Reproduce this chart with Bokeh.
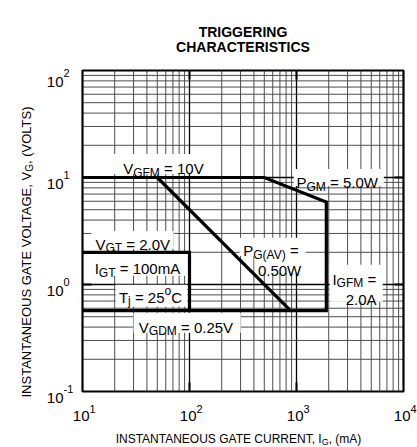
import math
from bokeh.plotting import figure
from bokeh.models import Label
from bokeh.embed import file_html
from bokeh.resources import INLINE

# ---------------- data ----------------
decades_i = [10, 100, 1000, 10000]          # gate current, mA
exp_i = ["1", "2", "3", "4"]
decades_v = [0.1, 1, 10, 100]               # gate voltage, V
exp_v = ["-1", "0", "1", "2"]

# outer limit: V_GFM -> P_GM -> I_GFM -> V_GDM
limit_i = [10, 500, 1900, 1900, 10]
limit_v = [10.0, 10.0, 5.9, 0.57, 0.57]
# average gate power P_G(AV) = 0.50 W
pav_i = [50, 880]
pav_v = [10.0, 0.57]
# trigger box V_GT = 2.0 V, I_GT = 100 mA
trig_i = [10, 100, 100]
trig_v = [2.0, 2.0, 0.57]

FONT = "Liberation Sans"

# Arial / Liberation Sans advance widths (per 1000 em) and main kerning pairs
W = {' ': 278, '(': 333, ')': 333, ',': 278, '-': 333, '.': 278, '=': 584,
     'A': 667, 'B': 667, 'C': 722, 'D': 722, 'E': 667, 'F': 611, 'G': 778,
     'H': 722, 'I': 278, 'J': 500, 'K': 667, 'L': 556, 'M': 833, 'N': 722,
     'O': 778, 'P': 667, 'Q': 778, 'R': 722, 'S': 667, 'T': 611, 'U': 722,
     'V': 667, 'W': 944, 'X': 667, 'Y': 667, 'Z': 611, 'a': 556, 'j': 222,
     'm': 833, 'o': 556}
for d in "0123456789":
    W[d] = 556
KERN = {"AT": -74, "TA": -74, "AV": -74, "VA": -74, "LT": -74, "LV": -74,
        "AY": -74, "YA": -74, "PA": -74, "11": -74, "T,": -111, "T.": -111,
        "V,": -111, "V.": -111, "P,": -129, "P.": -129}


def tw(s, size):
    w = sum(W.get(c, 600) for c in s)
    w += sum(KERN.get(s[i:i + 2], 0) for i in range(len(s) - 1))
    return w * size / 1000.0


# ---------------- layout (canvas = whole page, chart box drawn inside) ----------------
CW, CH = 417, 447
FL, FR, FT, FB = 82, 403, 70, 391           # chart box edges in canvas pixels
dec_x = (FR - FL) / 3.0
dec_y = (FB - FT) / 3.0
lx0, lx1 = math.log10(decades_i[0]), math.log10(decades_i[-1])
ly0, ly1 = math.log10(decades_v[0]), math.log10(decades_v[-1])
x_range = (10 ** (lx0 - FL / dec_x), 10 ** (lx1 + (CW - FR) / dec_x))
y_range = (10 ** (ly0 - (CH - FB) / dec_y), 10 ** (ly1 + FT / dec_y))

p = figure(width=CW, height=CH, x_axis_type="log", y_axis_type="log",
           x_range=x_range, y_range=y_range,
           x_axis_location=None, y_axis_location=None,
           output_backend="svg", toolbar_location=None, min_border=0)
p.grid.visible = False
p.outline_line_color = None
p.background_fill_color = "white"
p.border_fill_color = "white"

imin, imax = decades_i[0], decades_i[-1]
vmin, vmax = decades_v[0], decades_v[-1]

# grid
minor_i = [m * d for d in decades_i[:-1] for m in range(2, 10)]
minor_v = [m * d for d in decades_v[:-1] for m in range(2, 10)]
inner_i = decades_i[1:-1]
inner_v = decades_v[1:-1]
p.segment(x0=minor_i, x1=minor_i, y0=[vmin] * len(minor_i), y1=[vmax] * len(minor_i),
          line_color="#4d4d4d", line_width=1)
p.segment(x0=[imin] * len(minor_v), x1=[imax] * len(minor_v), y0=minor_v, y1=minor_v,
          line_color="#4d4d4d", line_width=1)
p.segment(x0=inner_i, x1=inner_i, y0=[vmin] * len(inner_i), y1=[vmax] * len(inner_i),
          line_color="black", line_width=1.3)
p.segment(x0=[imin] * len(inner_v), x1=[imax] * len(inner_v), y0=inner_v, y1=inner_v,
          line_color="black", line_width=1.3)

# inner major ticks (9 px long)
tk_x = 10 ** (9 / dec_x)
tk_y = 10 ** (9 / dec_y)
p.segment(x0=inner_i, x1=inner_i, y0=[vmin] * 2, y1=[vmin * tk_y] * 2, line_color="black", line_width=2)
p.segment(x0=inner_i, x1=inner_i, y0=[vmax] * 2, y1=[vmax / tk_y] * 2, line_color="black", line_width=2)
p.segment(x0=[imin] * 2, x1=[imin * tk_x] * 2, y0=inner_v, y1=inner_v, line_color="black", line_width=2)
p.segment(x0=[imax] * 2, x1=[imax / tk_x] * 2, y0=inner_v, y1=inner_v, line_color="black", line_width=2)

# ---------------- label backgrounds (white panels behind the annotations) ----------------
bg_left = [19.5, 942, 12.1, 10.3, 20.4, 294, 406, 2040, 30]
bg_right = [195, 6546, 71, 95, 95, 1219, 1219, 6400, 301]
bg_top = [16.6, 12.0, 3.17, 1.93, 0.994, 2.73, 1.85, 1.53, 0.544]
bg_bottom = [10.8, 8.35, 2.15, 1.21, 0.62, 1.85, 1.29, 0.69, 0.354]
p.quad(left=bg_left, right=bg_right, top=bg_top, bottom=bg_bottom,
       fill_color="white", line_color=None)

# chart box
p.quad(left=[imin], right=[imax], bottom=[vmin], top=[vmax],
       fill_color=None, line_color="black", line_width=2.2)

# ---------------- curves ----------------
p.line(limit_i, limit_v, line_color="black", line_width=3.2, line_join="miter")
p.line(pav_i, pav_v, line_color="black", line_width=3.2)
p.line(trig_i, trig_v, line_color="black", line_width=3.2, line_join="miter")


def rich(x, y, pieces, F, S, angle=0.0, x_off=0.0, y_off=0.0, sub=4.0, sup=6.0):
    adv = 0.0
    for text, kind in pieces:
        size = F if kind == "n" else S
        shift = {"n": 0.0, "s": -sub, "p": sup}[kind]
        stripped = text.lstrip(" ")
        adv += tw(text[: len(text) - len(stripped)], size)
        if angle == 0:
            xo, yo = x_off + adv, y_off + shift
        else:
            xo, yo = x_off - shift, y_off + adv
        p.add_layout(Label(x=x, y=y, x_offset=xo, y_offset=yo, text=stripped,
                           text_font=FONT, text_font_size=f"{size}px",
                           text_color="black", text_baseline="alphabetic",
                           text_align="left", angle=angle))
        adv += tw(stripped, size)


F, S = 15, 12
rich(24.0, 12.1, [("V", "n"), ("GFM", "s"), (" = 10V", "n")], F, S)
rich(1000, 8.96, [("P", "n"), ("GM", "s"), (" = 5.0W", "n")], F, S)
rich(13.2, 2.38, [("V", "n"), ("GT", "s"), (" = 2.0V", "n")], F, S)
rich(13.0, 1.41, [("I", "n"), ("GT", "s"), (" = 100mA", "n")], F, S)
rich(21.9, 0.756, [("T", "n"), ("j", "s"), (" = 25", "n"), ("o", "p"), ("C", "n")], F, S)
rich(318, 2.06, [("P", "n"), ("G(AV)", "s"), (" =", "n")], F, S)
rich(436, 1.34, [("0.50W", "n")], F, S)
rich(2167, 1.12, [("I", "n"), ("GFM", "s"), (" =", "n")], F, S)
rich(2886, 0.731, [("2.0A", "n")], F, S)
rich(33.6, 0.397, [("V", "n"), ("GDM", "s"), (" = 0.25V", "n")], F, S)

# ---------------- title ----------------
xc = math.sqrt(imin * imax)
for txt, off in (("TRIGGERING", 38.5), ("CHARACTERISTICS", 23.5)):
    p.add_layout(Label(x=xc, y=vmax, y_offset=off, text=txt,
                       text_font=FONT, text_font_size="14px",
                       text_font_style="bold", text_align="center",
                       text_baseline="alphabetic", text_color="black"))

# ---------------- tick labels ----------------
for d, e in zip(decades_i, exp_i):
    p.add_layout(Label(x=d, y=vmin, x_offset=7, y_offset=-24, text="10",
                       text_font=FONT, text_font_size="15px", text_align="right",
                       text_baseline="alphabetic", text_color="black"))
    p.add_layout(Label(x=d, y=vmin, x_offset=7, y_offset=-17, text=e,
                       text_font=FONT, text_font_size="11px", text_align="left",
                       text_baseline="alphabetic", text_color="black"))
for k, (d, e) in enumerate(zip(decades_v, exp_v)):
    dy = -5.5 if k == len(decades_v) - 1 else 0
    p.add_layout(Label(x=imin, y=d, x_offset=-19, y_offset=-6 + dy, text="10",
                       text_font=FONT, text_font_size="15px", text_align="right",
                       text_baseline="alphabetic", text_color="black"))
    p.add_layout(Label(x=imin, y=d, x_offset=-19, y_offset=3 + dy, text=e,
                       text_font=FONT, text_font_size="11px", text_align="left",
                       text_baseline="alphabetic", text_color="black"))

# ---------------- axis titles ----------------
rich(20.4, vmin, [("INSTANTANEOUS GATE CURRENT, I", "n"), ("G", "s"), (", (mA)", "n")],
     12, 9, y_off=-47, sub=3)
rich(imin, vmin, [("INSTANTANEOUS GATE VOLTAGE, V", "n"), ("G", "s"), (", (VOLTS)", "n")],
     13, 10, angle=math.pi / 2, x_off=-56, y_off=-6, sub=3)

open("out.html", "w").write(file_html(p, INLINE))
